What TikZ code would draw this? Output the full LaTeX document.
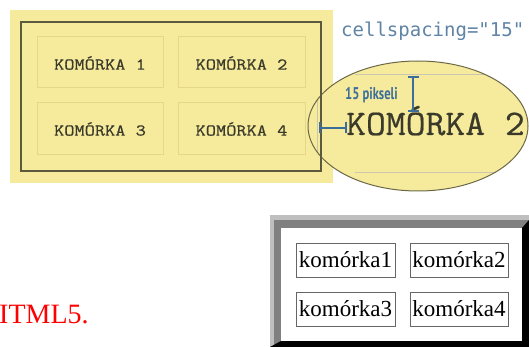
\documentclass[tikz,border=0pt]{standalone}
\usepackage{fontspec}
\usetikzlibrary{arrows.meta}
\newfontfamily\cellmono[FakeBold=0.7]{Latin Modern Mono}
\newfontfamily\bigmono[FakeBold=0.6]{Latin Modern Mono}
\newfontfamily\codemono{DejaVu Sans Mono}
\newfontfamily\htmlserif{Liberation Serif}
\newfontfamily\labelsans{PT Sans}
\definecolor{yelbg}{HTML}{F6EA9C}
\definecolor{olive}{HTML}{5C5A3C}
\definecolor{cellyel}{HTML}{E4D78C}
\definecolor{codeblue}{HTML}{5F84A6}
\definecolor{markblue}{HTML}{3C6E9C}
\definecolor{ringgray}{HTML}{6B6848}
\definecolor{faintline}{HTML}{CAC6B0}
\definecolor{celltext}{HTML}{3A3A2A}
\tikzset{
  x=1pt, y=-1pt,
  yelcell/.style={draw=cellyel, line width=1pt},
  yeltext/.style={font=\cellmono\fontsize{16.5}{16.5}\selectfont, text=celltext, inner sep=0pt, xscale=1.2},
  htmlcell/.style={draw=gray!80!black, line width=0.8pt, fill=white},
  htmltext/.style={font=\htmlserif\fontsize{23}{23}\selectfont, inner sep=0pt},
  marker/.style={draw=markblue, line width=2pt}
}
\begin{document}
\begin{tikzpicture}
\useasboundingbox (0,0) rectangle (529,347);
% yellow screenshot
\fill[yelbg] (10,10) rectangle (333,183);
\draw[yelcell] (37,37) rectangle (163,88);
\draw[yelcell] (178,37) rectangle (305,88);
\draw[yelcell] (37,103) rectangle (163,155);
\draw[yelcell] (178,103) rectangle (305,155);
\node[yeltext] (k1) at (100,63) {KOMÓRKA 1};
\node[yeltext] (k2) at (241.5,63) {KOMÓRKA 2};
\node[yeltext] (k3) at (100,129) {KOMÓRKA 3};
\node[yeltext] (k4) at (241.5,129) {KOMÓRKA 4};
% magnifier ellipse
\fill[yelbg] (418,126) ellipse [x radius=110, y radius=65];
\begin{scope}
  \clip (418,126) ellipse [x radius=110, y radius=65];
  \draw[faintline, line width=1pt] (355,75) -- (529,75);
  \draw[faintline, line width=1pt] (355,173) -- (529,173);
  \draw[faintline, line width=1pt] (317,100) -- (317,156);
\end{scope}
\draw[ringgray, line width=1pt] (418,126) ellipse [x radius=110, y radius=65];
\draw[olive, line width=1.5pt] (21,22) rectangle (321,171);
\node[anchor=base west, inner sep=0pt, xscale=1.07, font=\bigmono\fontsize{36}{36}\selectfont, text=celltext] (big) at (346,135) {KOMÓRKA 2};
\node[anchor=base west, inner sep=0pt, xscale=0.74, font=\labelsans\bfseries\fontsize{17}{17}\selectfont, text=markblue] (px) at (345,100) {15 pikseli};
\node[anchor=base west, inner sep=0pt, font=\codemono\fontsize{19}{19}\selectfont, text=codeblue] (cs) at (341,37) {cellspacing="15"};
\coordinate (vtop) at (413,76);
\coordinate (vbot) at (413,112);
\coordinate (hl) at (319,128);
\coordinate (hr) at (347,128);
\draw[marker, {Bar[width=11pt]}-{Bar[width=11pt]}] (vtop) -- (vbot);
\draw[marker, {Bar[width=11pt]}-{Bar[width=11pt]}] (hl) -- (hr);
% HTML table
\fill[gray!50] (270,215) rectangle (529,347);
\fill[gray] (274,220) rectangle (529,347);
\fill[black] (529,220) -- (529,347) -- (270,347) -- (281,341) -- (522,341) -- (522,228) -- cycle;
\fill[white] (281,228) rectangle (522,341);
\draw[htmlcell] (296,243) rectangle (395,277);
\draw[htmlcell] (410,243) rectangle (508,277);
\draw[htmlcell] (296,292) rectangle (395,326);
\draw[htmlcell] (410,292) rectangle (508,326);
\node[htmltext] (h1) at (345.5,260) {komórka1};
\node[htmltext] (h2) at (459,260) {komórka2};
\node[htmltext] (h3) at (345.5,309) {komórka3};
\node[htmltext] (h4) at (459,309) {komórka4};
% red text
\node[anchor=base west, inner sep=0pt, font=\htmlserif\fontsize{28}{28}\selectfont, text=red] (html5) at (-1,323) {ITML5.};
\end{tikzpicture}
\end{document}
